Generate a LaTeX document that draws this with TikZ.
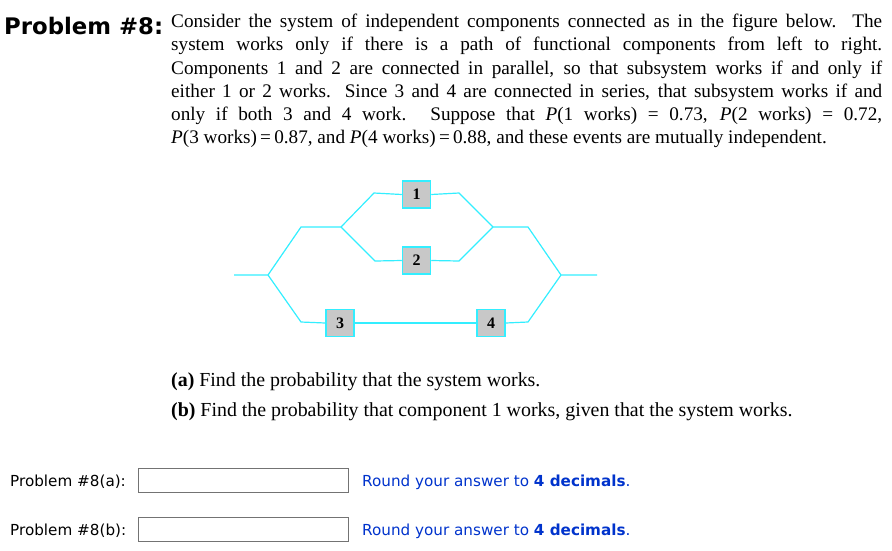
\documentclass[tikz,border=0pt]{standalone}
\usepackage{fontspec}
\setmainfont{Liberation Serif}
\newfontfamily\verd{DejaVu Sans}
\definecolor{wire}{HTML}{33EEFF}
\definecolor{boxg}{HTML}{C8C8C8}
\definecolor{rblue}{HTML}{0033CC}
\begin{document}
\begin{tikzpicture}[x=1pt,y=-1pt,
  wireline/.style={wire,line width=1.2pt},
  comp/.style={draw=wire,fill=boxg,line width=1.5pt,minimum width=28pt,minimum height=27pt,inner sep=0pt,font=\bfseries\fontsize{16}{16}\selectfont},
  ansbox/.style={draw=black!55,minimum width=210pt,minimum height=24pt,inner sep=0pt}]
\useasboundingbox (0,0) rectangle (892,550);
\node[anchor=base west,font=\verd\bfseries\fontsize{22.8}{22.8}\selectfont,inner sep=0] (title) at (4,34) {Problem \#8:};
\node[anchor=north west,text width=711pt,align=justify,inner sep=0,font=\fontsize{19.2}{23.2}\selectfont] (body) at (171,14)
{\sloppy Consider the system of independent components connected as in the figure below. The\linebreak system works only if there is a path of functional components from left to right.\linebreak Components 1 and 2 are connected in parallel, so that subsystem works if and only if\linebreak either 1 or 2 works. Since 3 and 4 are connected in series, that subsystem works if and\linebreak only if both 3 and 4 work. Suppose that \emph{P}(1 works) = 0.73, \emph{P}(2 works) = 0.72,\linebreak \emph{P}(3 works)\,=\,0.87, and \emph{P}(4 works)\,=\,0.88, and these events are mutually independent.};
% diagram
\node[comp] (c1) at (416.5,194.5) {1};
\node[comp] (c2) at (416.5,260.5) {2};
\node[comp] (c3) at (340,323) {3};
\node[comp] (c4) at (491,323) {4};
\coordinate (in) at (234,275);
\coordinate (a) at (268,275);
\coordinate (b) at (341,227);
\coordinate (c) at (493,227);
\coordinate (d) at (561,275);
\coordinate (out) at (597,275);
\draw[wireline] (in) -- (a) -- (301,227) -- (b) -- (374,193) -- (c1.west);
\draw[wireline] (c1.east) -- (459,193) -- (c) -- (528,227) -- (d) -- (out);
\draw[wireline] (b) -- (375,261) -- (c2.west);
\draw[wireline] (c2.east) -- (459,261) -- (c);
\draw[wireline] (a) -- (301,322) -- (c3.west);
\draw[wireline] (c3.east) -- (c4.west);
\draw[wireline] (c4.east) -- (528,322) -- (d);
\node[anchor=base west,inner sep=0,font=\fontsize{19.9}{20}\selectfont] (qa) at (171,386) {\textbf{(a)} Find the probability that the system works.};
\node[anchor=base west,inner sep=0,font=\fontsize{19.9}{20}\selectfont] (qb) at (171,416) {\textbf{(b)} Find the probability that component 1 works, given that the system works.};
\node[anchor=base west,inner sep=0,font=\verd\fontsize{15.2}{15}\selectfont] (la) at (10,486) {Problem \#8(a):};
\node[ansbox] (ba) at (243,480) {};
\node[anchor=base west,inner sep=0,font=\verd\fontsize{15.2}{15}\selectfont,text=rblue] (ra) at (362,486) {Round your answer to \textbf{4 decimals}.};
\node[anchor=base west,inner sep=0,font=\verd\fontsize{15.2}{15}\selectfont] (lb) at (10,535) {Problem \#8(b):};
\node[ansbox] (bb) at (243,529) {};
\node[anchor=base west,inner sep=0,font=\verd\fontsize{15.2}{15}\selectfont,text=rblue] (rb) at (362,535) {Round your answer to \textbf{4 decimals}.};
\end{tikzpicture}
\end{document}
